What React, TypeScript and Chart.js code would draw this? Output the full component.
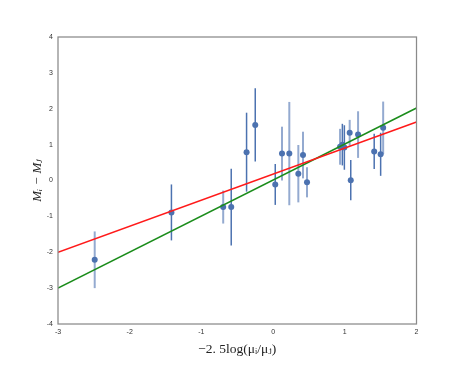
import React, { useEffect, useRef } from "react";
import { Chart, registerables } from "chart.js";

Chart.register(...registerables);

// Dark error-bar set
const darkX = [-1.418, -0.584, -0.37, -0.249, 0.03, 0.966, 0.994, 1.083, 1.41, 1.5];
const darkY = [-0.89, -0.74, 0.79, 1.55, -0.11, 1.0, 0.92, 0.01, 0.81, 0.73];
const darkErr = [0.78, 1.07, 1.1, 1.02, 0.57, 0.58, 0.62, 0.56, 0.49, 0.6];

// Light error-bar set
const lightX = [-2.488, -0.696, 0.124, 0.226, 0.352, 0.417, 0.473, 0.934, 1.068, 1.185, 1.535];
const lightY = [-2.21, -0.74, 0.75, 0.75, 0.19, 0.71, -0.05, 0.94, 1.33, 1.28, 1.47];
const lightErr = [0.79, 0.46, 0.75, 1.44, 0.8, 0.65, 0.42, 0.5, 0.36, 0.65, 0.73];

// Fit lines (endpoints over the x range)
const lineX = [-3, 2];
const redY = [-2.0, 1.63];
const greenY = [-3.0, 2.02];

const xTicks = [-3, -2, -1, 0, 1, 2];
const yTicks = [-4, -3, -2, -1, 0, 1, 2, 3, 4];

const BLUE = "#4C72B0";
const LIGHT = "rgba(76,114,176,0.6)";

export default function App() {
  const ref = useRef<HTMLCanvasElement | null>(null);
  useEffect(() => {
    document.body.style.margin = "0";
    const canvas = ref.current;
    if (!canvas) return;

    const errorBars = {
      id: "errorBars",
      beforeDatasetsDraw(chart: any) {
        const ctx = chart.ctx;
        const xs = chart.scales.x;
        const ys = chart.scales.y;
        const drawSet = (X: number[], Y: number[], E: number[], color: string, w: number) => {
          ctx.save();
          ctx.strokeStyle = color;
          ctx.lineWidth = w;
          X.forEach((x, i) => {
            const px = xs.getPixelForValue(x);
            ctx.beginPath();
            ctx.moveTo(px, ys.getPixelForValue(Y[i] - E[i]));
            ctx.lineTo(px, ys.getPixelForValue(Y[i] + E[i]));
            ctx.stroke();
          });
          ctx.restore();
        };
        drawSet(lightX, lightY, lightErr, LIGHT, 2);
        drawSet(darkX, darkY, darkErr, BLUE, 1.5);
      },
    };

    const frame = {
      id: "frame",
      afterDraw(chart: any) {
        const { left, right, top, bottom } = chart.chartArea;
        const ctx = chart.ctx;
        ctx.save();
        ctx.strokeStyle = "#8a8a8a";
        ctx.lineWidth = 1.25;
        ctx.strokeRect(left, top, right - left, bottom - top);
        ctx.restore();
      },
    };

    const tickFont = { family: "'Liberation Sans', Arial, sans-serif", size: 7 };

    const chart = new Chart(canvas, {
      type: "scatter",
      data: {
        datasets: [
          {
            label: "red",
            data: lineX.map((x, i) => ({ x, y: redY[i] })),
            showLine: true,
            borderColor: "#ff1a1a",
            borderWidth: 1.5,
            pointRadius: 0,
          },
          {
            label: "green",
            data: lineX.map((x, i) => ({ x, y: greenY[i] })),
            showLine: true,
            borderColor: "#1a8c1a",
            borderWidth: 1.5,
            pointRadius: 0,
          },
          {
            label: "light",
            data: lightX.map((x, i) => ({ x, y: lightY[i] })),
            backgroundColor: BLUE,
            borderColor: BLUE,
            pointRadius: 3,
            borderWidth: 0,
          },
          {
            label: "dark",
            data: darkX.map((x, i) => ({ x, y: darkY[i] })),
            backgroundColor: BLUE,
            borderColor: BLUE,
            pointRadius: 3,
            borderWidth: 0,
          },
        ],
      },
      options: {
        animation: false,
        responsive: true,
        maintainAspectRatio: false,
        layout: { padding: { left: 0, right: 46.5, top: 37, bottom: 0 } },
        plugins: { legend: { display: false }, tooltip: { enabled: false } },
        scales: {
          x: {
            type: "linear",
            min: -3,
            max: 2,
            afterBuildTicks: (s: any) => {
              s.ticks = xTicks.map((v) => ({ value: v }));
            },
            afterFit: (s: any) => {
              s.height = 47;
            },
            grid: { display: false, drawTicks: false },
            border: { display: false },
            ticks: { font: tickFont, color: "#333", padding: 4, maxRotation: 0 },
            title: {
              display: true,
              text: "−2. 5log(μᵢ/μⱼ)",
              font: { family: "'Liberation Serif', 'DejaVu Serif', serif", size: 13.5 },
              color: "#222",
              padding: { top: 0, bottom: 13 },
            },
          },
          y: {
            type: "linear",
            min: -4,
            max: 4,
            afterBuildTicks: (s: any) => {
              s.ticks = yTicks.map((v) => ({ value: v }));
            },
            afterFit: (s: any) => {
              s.width = 58;
            },
            grid: { display: false, drawTicks: false },
            border: { display: false },
            ticks: { font: tickFont, color: "#333", padding: 5 },
            title: {
              display: true,
              text: "Mᵢ − Mⱼ",
              font: { family: "'Liberation Serif', 'DejaVu Serif', serif", size: 13, style: "italic" },
              color: "#222",
              padding: { top: 30, bottom: 0 },
            },
          },
        },
      },
      plugins: [errorBars, frame],
    });
    return () => chart.destroy();
  }, []);

  return (
    <div style={{ position: "relative", width: 463, height: 371 }}>
      <canvas ref={ref} />
    </div>
  );
}
